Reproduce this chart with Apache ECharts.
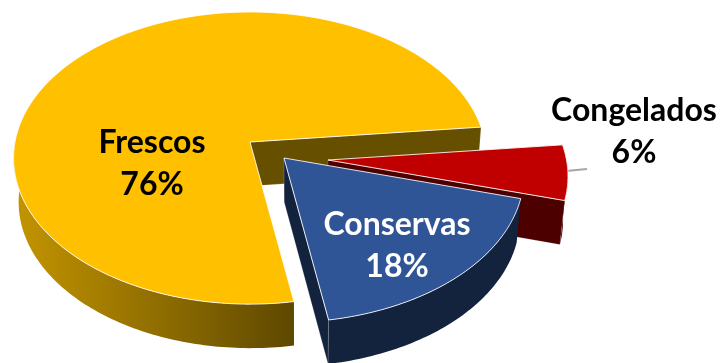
<!DOCTYPE html>
<html>
<head>
<meta charset="utf-8">
<style>html,body{margin:0;padding:0;background:#fff}#chart{width:722px;height:363px}</style>
<script src="https://cdn.jsdelivr.net/npm/echarts@6/dist/echarts.min.js"></script>
</head>
<body>
<div id="chart"></div>
<script>
// Market share by product presentation
const categories = ['Frescos', 'Congelados', 'Conservas'];
const shares = [76, 6, 18];

// Slice styling, in the same order as the categories
const topColors = ['#FFC000', '#C00000', '#2F5597'];
const wallColors = ['#665000', '#4D0000', '#14233D'];
const labelColors = ['#000000', '#000000', '#FFFFFF'];

// Where each slice's tip sits once pulled out of the pie, and how much
// nearer slices grow under the perspective
const tips = [[250, 142], [328, 160], [284, 158]];
const nearScale = [1, 1.015, 1.015];
const labelCentres = [[152, 164], [634, 132], [397, 246]];

// Tilted-disc projection
const RX = 235, RY = 144.3, PERSPECTIVE = 0.11;
const DEPTH = 44, VANISH_X = 295, VANISH_RATE = 0.018;
const START_DEG = 80.4;

const sweepStart = [];
shares.reduce((sum, v, i) => (sweepStart[i] = sum, sum + v), 0);
const total = shares.reduce((a, b) => a + b, 0);

function project(tip, deg, scale) {
  const t = deg * Math.PI / 180, u = Math.cos(t), v = Math.sin(t), w = 1 - PERSPECTIVE * v;
  return [tip[0] + scale * RX * u / w, tip[1] + scale * RY * v / w];
}
function lower(p) {
  return [p[0] + (VANISH_X - p[0]) * VANISH_RATE, p[1] + DEPTH];
}
function arc(tip, from, to, scale) {
  const pts = [], n = Math.max(2, Math.ceil(Math.abs(to - from)));
  for (let i = 0; i <= n; i++) pts.push(project(tip, from + (to - from) * i / n, scale));
  return pts;
}

function renderSlice(params, api) {
  const i = params.dataIndex, value = api.value(1), tip = tips[i], scale = nearScale[i];
  const a = START_DEG + sweepStart[i] / total * 360;
  const b = a + value / total * 360;
  const children = [];

  // Outer rim wall: only the near half of the disc shows
  let nearFrom = a, nearTo = Math.min(b, 180);
  if (a > 180) { nearFrom = Math.max(a, 360); nearTo = Math.min(b, 540); }
  if (b > 360 && a < 360) { nearFrom = 360; nearTo = b; }
  if (nearTo > nearFrom) {
    const rim = arc(tip, nearFrom, nearTo, scale);
    const fill = i === 0
      ? new echarts.graphic.LinearGradient(0, 0, 1, 0, [
          { offset: 0, color: '#C49500' }, { offset: 1, color: '#5E4800' }
        ])
      : wallColors[i];
    children.push({
      type: 'polygon',
      shape: { points: rim.concat(rim.map(lower).reverse()) },
      style: { fill }
    });
  }

  // Radial cut faces that look towards the viewer
  [[a, a - 90], [b, b + 90]].forEach(([deg, normal]) => {
    if (Math.sin(normal * Math.PI / 180) <= 0) return;
    const rim = project(tip, deg, scale);
    children.push({
      type: 'polygon',
      shape: { points: [tip, rim, lower(rim), lower(tip)] },
      style: { fill: wallColors[i], stroke: 'rgba(255,255,255,0.3)', lineWidth: 0.6 }
    });
  });

  // Top face with its pale outline
  children.push({
    type: 'polygon',
    shape: { points: [tip].concat(arc(tip, a, b, scale)) },
    style: { fill: topColors[i], stroke: 'rgba(255,255,255,0.85)', lineWidth: 1, lineJoin: 'round' }
  });
  return { type: 'group', children };
}

function renderLabel(params, api) {
  const i = params.dataIndex, c = labelCentres[i];
  return {
    type: 'text',
    style: {
      text: categories[i] + '\n' + api.value(1) + '%',
      x: c[0], y: c[1], align: 'center', verticalAlign: 'middle',
      font: 'bold 32px Lato', lineHeight: 42, fill: labelColors[i]
    },
    z2: 10
  };
}

function renderLeader(params, api) {
  return {
    type: 'line',
    shape: { x1: 566, y1: 171, x2: 587, y2: 169 },
    style: { stroke: '#A6A6A6', lineWidth: 2 }
  };
}

const sliceData = categories.map((name, i) => ({ name, value: [i, shares[i]] }));

const chart = echarts.init(document.getElementById('chart'), null, { renderer: 'canvas' });
chart.setOption({
  animation: false,
  backgroundColor: '#ffffff',
  series: [
    { type: 'custom', coordinateSystem: 'none', silent: true, renderItem: renderLeader, data: [sliceData[1]], z: 1 },
    { type: 'custom', coordinateSystem: 'none', silent: true, renderItem: renderSlice, data: sliceData, z: 2 },
    { type: 'custom', coordinateSystem: 'none', silent: true, renderItem: renderLabel, data: sliceData, z: 3 }
  ]
});
</script>
</body>
</html>
